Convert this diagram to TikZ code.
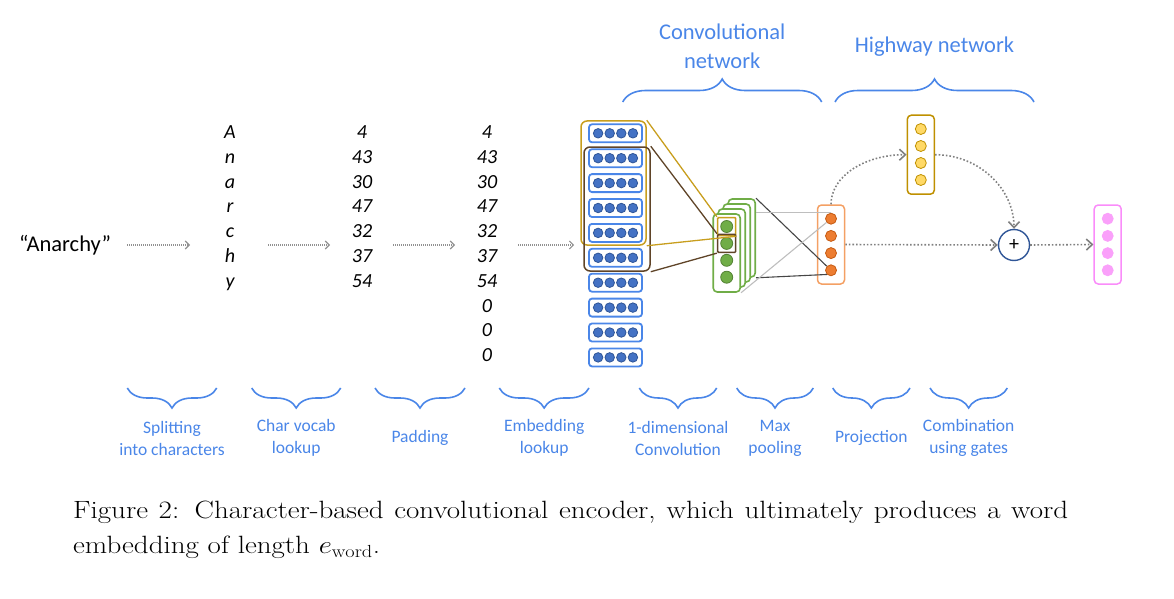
\documentclass[tikz,border=0pt]{standalone}
\usepackage{fontspec}
\usepackage{graphicx}
\newfontfamily\calibri{Carlito}
\usetikzlibrary{arrows.meta,positioning,calc,decorations.pathreplacing}
\definecolor{lblblue}{RGB}{74,134,232}
\definecolor{embblue}{RGB}{68,114,196}
\definecolor{embdark}{RGB}{47,85,151}
\definecolor{goldfr}{RGB}{200,158,30}
\definecolor{brownfr}{RGB}{95,68,40}
\definecolor{convgreen}{RGB}{112,173,71}
\definecolor{greendark}{RGB}{84,130,53}
\definecolor{projorange}{RGB}{237,125,49}
\definecolor{orangedark}{RGB}{197,90,17}
\definecolor{orangebox}{RGB}{244,160,100}
\definecolor{gateyellow}{RGB}{255,217,102}
\definecolor{yellowdark}{RGB}{191,144,0}
\definecolor{outpink}{RGB}{250,160,250}
\definecolor{pinkbox}{RGB}{250,140,250}
\begin{document}
\begin{tikzpicture}[x=1pt,y=-1pt,
        lbl/.style={font=\calibri\fontsize{17.5}{22}\selectfont,text=lblblue,align=center},
        lbltop/.style={font=\calibri\fontsize{22.5}{29}\selectfont,text=lblblue,align=center},
        datatxt/.style={font=\calibri\itshape\fontsize{20}{24}\selectfont,anchor=base,inner sep=0pt},
        brace/.style={decorate,decoration={brace,amplitude=20pt},draw=lblblue,line width=1.6pt},
        greyarrow/.style={draw={rgb,255:red,145;green,145;blue,145},line width=1.1pt,
            dash pattern=on 1pt off 1pt,-{Straight Barb[length=4pt,width=8pt]}},
        hwarrow/.style={draw={rgb,255:red,128;green,128;blue,128},line width=1.6pt,
            dash pattern=on 1.6pt off 2pt,-{Straight Barb[length=6pt,width=11pt]}},
        embbox/.style={draw=lblblue,fill=white,line width=1.8pt,rounded corners=3pt,
            minimum width=53pt,minimum height=18pt,inner sep=0pt},
        dot/.style={circle,inner sep=0pt,line width=0.8pt},
        frame/.style={rounded corners=6pt,line width=1.5pt,inner sep=0pt},
        convbox/.style={draw=convgreen,fill=white,line width=1.6pt,rounded corners=4pt,
            minimum width=27pt,minimum height=78pt,inner sep=0pt},
        vecbox/.style={fill=white,line width=1.5pt,rounded corners=4pt,
            minimum width=27pt,minimum height=79pt,inner sep=0pt},
        pooldark/.style={draw={rgb,255:red,70;green,70;blue,70},line width=1.1pt},
        poollight/.style={draw={rgb,255:red,190;green,190;blue,190},line width=1.1pt},
        captxt/.style={anchor=base west,inner sep=0pt,font=\fontsize{25}{35}\selectfont}]
        \useasboundingbox (0,0) rectangle (1174,599);
        \node[font=\calibri\fontsize{22.5}{26}\selectfont,inner sep=0pt] (word) at (65,245) {“Anarchy”};
        \foreach \c [count=\i] in {A,n,a,r,c,h,y}
            \node[datatxt] (ch\i) at (230,{138.5+24.8*(\i-1)}) {\c};
        \foreach \v [count=\i] in {4,43,30,47,32,37,54}
            \node[datatxt] (vc\i) at (362,{138.5+24.8*(\i-1)}) {\v};
        \foreach \v [count=\i] in {4,43,30,47,32,37,54,0,0,0}
            \node[datatxt] (pd\i) at (487,{138.5+24.8*(\i-1)}) {\v};
        \foreach \i in {1,...,10}{
            \node[embbox] (e\i) at (615.5,{133.3+24.9*(\i-1)}) {};
            \foreach \j in {1,...,4}
                \node[dot,fill=embblue,draw=embdark,minimum size=9.5pt] at ($(e\i)+({11.6*\j-29},0)$) {};
        }
        \coordinate (m1) at (ch1.base |- word.center);
        \coordinate (m2) at (vc1.base |- word.center);
        \coordinate (m3) at (pd1.base |- word.center);
        \coordinate (m4) at (e1.west |- word.center);
        \draw[greyarrow,shorten <=16pt,shorten >=40pt] (word.east) -- (m1);
        \draw[greyarrow,shorten <=38pt,shorten >=32pt] (m1) -- (m2);
        \draw[greyarrow,shorten <=31pt,shorten >=32pt] (m2) -- (m3);
        \draw[greyarrow,shorten <=31pt,shorten >=14pt] (m3) -- (m4);
        \node[frame,draw=goldfr,minimum width=65pt,minimum height=124pt] (gframe) at (613.5,183) {};
        \node[frame,draw=brownfr,minimum width=66pt,minimum height=124pt] (bframe) at (617,209) {};
        \foreach \k in {3,2,1,0}
            \node[convbox] (c\k) at ({726.7+5*\k},{253-5*\k}) {};
        \foreach \i in {1,...,4}
            \node[dot,fill=convgreen,draw=greendark,minimum size=12pt] (g\i) at ($(c0)+(0,{16.9*\i-43.4})$) {};
        \node[frame,rounded corners=1pt,draw=goldfr,minimum size=18pt] (gsmall) at (g1) {};
        \node[frame,rounded corners=1pt,draw=brownfr,minimum size=18pt] (bsmall) at (g2) {};
        \draw[goldfr,line width=1.3pt] (gframe.north east) -- (gsmall.north west);
        \draw[goldfr,line width=1.3pt] (gframe.south east) -- (gsmall.south east);
        \draw[brownfr,line width=1.3pt] (bframe.north east) -- (bsmall.north west);
        \draw[brownfr,line width=1.3pt] (bframe.south east) -- (bsmall.south west);
        \node[vecbox,draw=orangebox] (proj) at (831,244.5) {};
        \foreach \i in {1,...,4}
            \node[dot,fill=projorange,draw=orangedark,minimum size=11pt] (o\i) at ($(proj)+(0,{17.2*\i-43})$) {};
        \draw[pooldark] (c3.north east) -- (o4);
        \draw[pooldark] (c3.south east) -- (o4.south west);
        \draw[poollight] (c3.east |- o1.north) -- (o1.north);
        \draw[poollight] (c0.south east) -- (o1);
        \node[vecbox,draw=yellowdark] (gate) at (920.8,154.7) {};
        \foreach \i in {1,...,4}
            \node[dot,fill=gateyellow,draw=yellowdark,minimum size=11pt] (y\i) at ($(gate)+(0,{17*\i-42.7})$) {};
        \node[vecbox,draw=pinkbox] (out) at (1107.7,244.5) {};
        \foreach \i in {1,...,4}
            \node[dot,fill=outpink,draw=outpink,minimum size=11pt] (p\i) at ($(out)+(0,{17.2*\i-43})$) {};
        \node[circle,draw=embdark,fill=white,line width=1.4pt,minimum size=31pt,inner sep=0pt,
            font=\calibri\fontsize{20}{20}\selectfont] (plus) at (1014,245) {+};
        \draw[hwarrow] (proj.north) .. controls +(0,-28) and +(-42,0) .. (gate.west);
        \draw[hwarrow] (gate.east) .. controls +(44,0) and +(0,-40) .. (plus.north);
        \draw[hwarrow] (proj.east) -- (plus.west);
        \draw[hwarrow] (plus.east) -- (out.west);
        \foreach \a/\b/\t in {127.3/216.7/{Splitting\\into characters},251.7/340.7/{Char vocab\\lookup},
            375/465/Padding,499.3/589/{Embedding\\lookup},639.3/716.7/{1-dimensional\\Convolution},
            736.7/813.3/{Max\\pooling},832.7/910/Projection,930/1007.3/{Combination\\using gates}}
            \draw[brace] (\b,388) -- (\a,388) node[lbl,midway,yshift=-50pt] {\t};
        \draw[brace,decoration={amplitude=23pt}] (622.7,102) -- (821.7,102)
            node[lbltop,midway,yshift=56pt] {Convolutional\\network};
        \draw[brace,decoration={amplitude=23pt}] (835,102) -- (1034,102)
            node[lbltop,midway,yshift=55pt] {Highway network};
        \node[captxt] (cap1) at (73,518.5)
            {\scalebox{1.16}[1]{\makebox[857.8pt][s]{Figure 2: Character-based convolutional encoder, which ultimately produces a word}}};
        \node[captxt] (cap2) at (73,553.5)
            {\scalebox{1.16}[1]{embedding of length $e_{\mathrm{word}}$.}};
\end{tikzpicture}
\end{document}
